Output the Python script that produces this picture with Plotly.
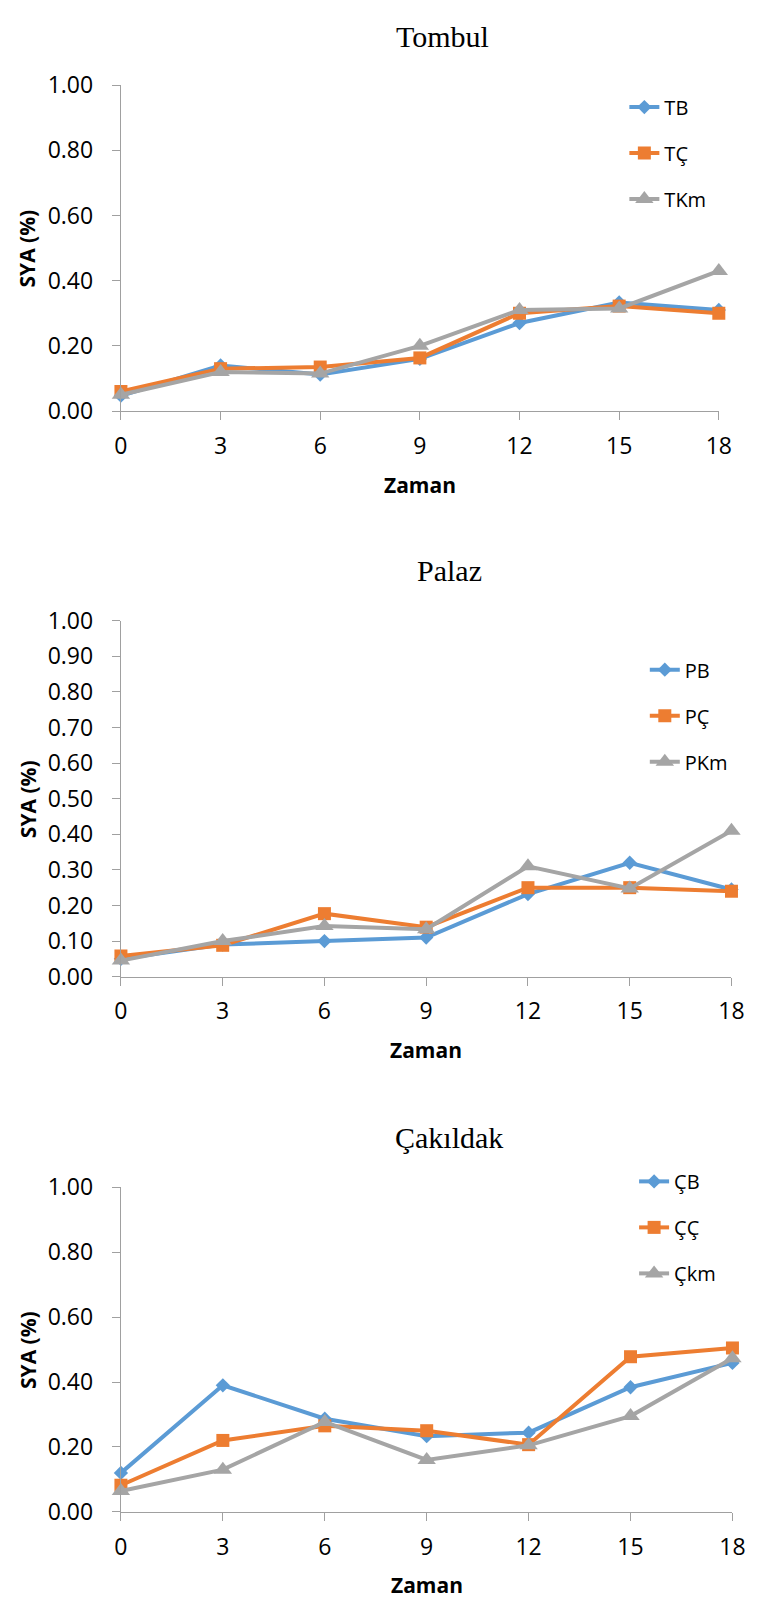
import plotly.graph_objects as go

W, H = 762, 1617

zaman = [0, 3, 6, 9, 12, 15, 18]

# Tombul
TB = [0.047, 0.14, 0.112, 0.16, 0.27, 0.333, 0.31]
TC = [0.06, 0.13, 0.135, 0.163, 0.30, 0.322, 0.30]
TKm = [0.05, 0.12, 0.115, 0.20, 0.31, 0.315, 0.43]
# Palaz
PB = [0.05, 0.09, 0.10, 0.11, 0.232, 0.32, 0.245]
PC = [0.058, 0.088, 0.177, 0.139, 0.25, 0.25, 0.24]
PKm = [0.045, 0.10, 0.142, 0.133, 0.31, 0.248, 0.41]
# Çakıldak
CB = [0.12, 0.39, 0.287, 0.233, 0.244, 0.384, 0.459]
CC = [0.082, 0.22, 0.265, 0.25, 0.207, 0.478, 0.505]
Ckm = [0.064, 0.13, 0.277, 0.16, 0.205, 0.295, 0.473]

titles = ["Tombul", "Palaz", "Çakıldak"]
names = [["TB", "TÇ", "TKm"], ["PB", "PÇ", "PKm"], ["ÇB", "ÇÇ", "Çkm"]]
series = [[TB, TC, TKm], [PB, PC, PKm], [CB, CC, Ckm]]
ydtick = [0.2, 0.1, 0.2]

colors = ["#5B9BD5", "#ED7D31", "#A5A5A5"]
symbols = ["diamond", "square", "triangle-up"]
msizes = [11, 13, 16]

# layout in pixels: (x0, x1, ytop, ybottom)
boxes = [(117, 731, 69.5, 402), (117, 744, 616, 979), (117, 745, 1194, 1525)]
title_pos = [(447, 20), (454, 565), (454, 1143)]
legend_pos = [(634, 72), (655, 646), (644, 1168)]

AX = "#A0A0A0"
TICKFONT = dict(family="Open Sans", size=23, color="#000000")

def px(x):
    return x / W

def py(y):
    return 1 - y / H

fig = go.Figure()
annotations = []
layout = {}

for i in range(3):
    sfx = "" if i == 0 else str(i + 1)
    x0, x1, yt, yb = boxes[i]
    leg = "legend" if i == 0 else "legend" + str(i + 1)
    for j in range(3):
        fig.add_trace(go.Scatter(
            x=zaman, y=series[i][j], name=names[i][j],
            mode="lines+markers",
            line=dict(color=colors[j], width=4),
            marker=dict(symbol=symbols[j], size=msizes[j], color=colors[j]),
            xaxis="x" + sfx, yaxis="y" + sfx,
            legend=leg, legendgroup=f"g{i}{j}",
            cliponaxis=False,
        ))
    layout["xaxis" + sfx] = dict(
        domain=[px(x0), px(x1)], anchor="y" + sfx, range=[0, 18],
        tickvals=zaman, ticktext=[str(v) for v in zaman],
        showline=True, linecolor=AX, linewidth=1.3,
        ticks="outside", ticklen=8, tickcolor=AX, tickwidth=1.3,
        showgrid=False, zeroline=False, tickfont=TICKFONT,
        ticklabelstandoff=6,
    )
    layout["yaxis" + sfx] = dict(
        domain=[py(yb), py(yt)], anchor="x" + sfx, range=[0, 1],
        dtick=ydtick[i], tick0=0, tickformat=".2f",
        showline=True, linecolor=AX, linewidth=1.3,
        ticks="outside", ticklen=8, tickcolor=AX, tickwidth=1.3,
        showgrid=False, zeroline=False, tickfont=TICKFONT,
        ticklabelstandoff=14,
    )
    lx, ly = legend_pos[i]
    layout[leg] = dict(
        x=px(lx), y=py(ly), xanchor="left", yanchor="top",
        xref="paper", yref="paper",
        font=dict(family="Open Sans", size=20, color="#000000"),
        bgcolor="rgba(0,0,0,0)", tracegroupgap=17, itemwidth=30,
    )
    tx, ty = title_pos[i]
    annotations.append(dict(
        text=titles[i], x=px(tx), y=py(ty), xref="paper", yref="paper",
        xanchor="center", yanchor="middle", showarrow=False,
        font=dict(family="Liberation Serif", size=30, color="#000000"),
    ))
    annotations.append(dict(
        text="Zaman", x=px((x0 + x1) / 2), y=py(yb + 75), xref="paper", yref="paper",
        xanchor="center", yanchor="middle", showarrow=False,
        font=dict(family="Open Sans", size=21, color="#000000", weight="bold"),
    ))
    annotations.append(dict(
        text="SYA (%)", x=px(21), y=py((yt + yb) / 2), xref="paper", yref="paper",
        xanchor="center", yanchor="middle", showarrow=False, textangle=-90,
        font=dict(family="Open Sans", size=21, color="#000000", weight="bold"),
    ))

fig.update_layout(
    width=W, height=H, autosize=False,
    margin=dict(l=0, r=0, t=0, b=0),
    paper_bgcolor="white", plot_bgcolor="white",
    annotations=annotations,
    **layout,
)

fig.write_html("out.html")
